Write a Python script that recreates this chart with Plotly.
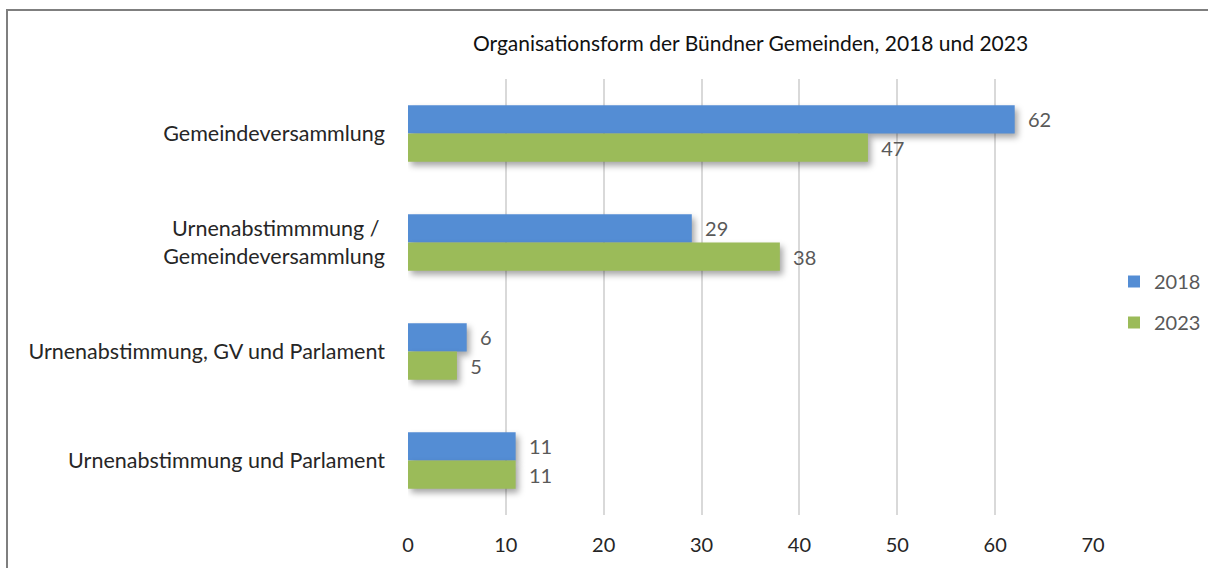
import plotly.graph_objects as go

categories = ["Gemeindeversammlung",
              "Urnenabstimmmung /\u00a0<br>Gemeindeversammlung",
              "Urnenabstimmung, GV und Parlament",
              "Urnenabstimmung und Parlament"]
values_2018 = [62, 29, 6, 11]
values_2023 = [47, 38, 5, 11]
series_names = ["2018", "2023"]
x_ticks = [0, 10, 20, 30, 40, 50, 60, 70]

W, H = 1208, 568
L, R, T, B = 408, 115, 79, 53
pw, ph = W - L - R, H - T - B

font = "Lato, Noto Sans, sans-serif"
fig = go.Figure()
for name, vals, col in [(series_names[0], values_2018, "#548DD4"),
                        (series_names[1], values_2023, "#9BBB59")]:
    fig.add_trace(go.Bar(
        y=categories, x=vals, name=name, orientation="h",
        marker=dict(color=col, line=dict(width=0)),
        texttemplate="  %{x}", textposition="outside", cliponaxis=False,
        textfont=dict(size=20, color="#595959", family=font),
        legendgroup=name,
    ))

fig.update_layout(
    width=W, height=H, autosize=False,
    margin=dict(l=L, r=R, t=T, b=B, autoexpand=False),
    paper_bgcolor="white", plot_bgcolor="white",
    barmode="group", bargap=0.48, bargroupgap=0,
    font=dict(family=font, size=20, color="#262626"),
    title=dict(text="Organisationsform der Bündner Gemeinden, 2018 und 2023",
               x=0.5, xref="paper", xanchor="center",
               y=1 - 44 / H, yref="container", yanchor="middle",
               font=dict(size=21, color="#111111", family=font)),
    xaxis=dict(range=[0, 70], tickvals=x_ticks, showgrid=True,
               gridcolor="#d9d9d9", gridwidth=1.5, zeroline=False,
               showline=False, ticks="", ticklabelstandoff=16,
               tickfont=dict(size=20, color="#262626")),
    yaxis=dict(autorange="reversed", showgrid=False, showline=False,
               ticks="", ticklabelstandoff=22,
               tickfont=dict(size=21.5, color="#262626")),
    legend=dict(x=1114 / W, y=1 - 302 / H, xref="container", yref="container",
                xanchor="left", yanchor="middle", tracegroupgap=12,
                bgcolor="rgba(0,0,0,0)",
                font=dict(size=20, color="#595959")),
    shapes=[dict(type="rect", xref="paper", yref="paper",
                 x0=(7 - L) / pw, x1=(1230 - L) / pw,
                 y0=-(600 - (H - B)) / ph, y1=1 + (T - 10) / ph,
                 line=dict(color="#7f7f7f", width=2), fillcolor="rgba(0,0,0,0)",
                 layer="below")],
)

post = """
document.body.style.margin='0';
document.body.style.overflow='hidden';
var gd=document.getElementById('{plot_id}');
function addShadow(){
  gd.querySelectorAll('.barlayer .point path').forEach(function(p){
    p.style.filter='drop-shadow(3px 4px 3px rgba(0,0,0,0.35))';
  });
}
Plotly.relayout(gd,{width:1208,height:568}).then(addShadow);
gd.on('plotly_afterplot', addShadow);
"""

fig.write_html("out.html", post_script=post, config={"displayModeBar": False})
